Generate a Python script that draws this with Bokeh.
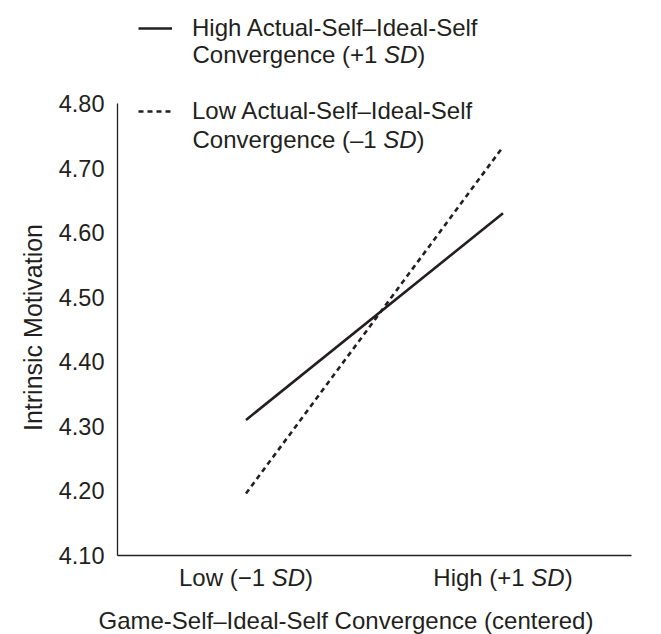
import math
from bokeh.plotting import figure
from bokeh.models import Range1d, FixedTicker, PrintfTickFormatter, Label, Legend, LegendItem
from bokeh.embed import file_html
from bokeh.resources import INLINE

# ---- data ----
x_categories = ["Low (\u22121 SD)", "High (+1 SD)"]
high_actual_ideal = [4.31, 4.63]   # High Actual-Self–Ideal-Self Convergence (+1 SD)
low_actual_ideal = [4.196, 4.733]  # Low Actual-Self–Ideal-Self Convergence (–1 SD)
y_ticks = [4.10, 4.20, 4.30, 4.40, 4.50, 4.60, 4.70, 4.80]
y_title = "Intrinsic Motivation"
x_title = "Game-Self\u2013Ideal-Self Convergence (centered)"
legend_high = ["High Actual-Self\u2013Ideal-Self", "Convergence (+1 ", "SD", ")"]
legend_low = ["Low Actual-Self\u2013Ideal-Self", "Convergence (\u20131 ", "SD", ")"]

# ---- layout / style ----
FONT = "Liberation Sans"
FS = 24
FSZ = f"{FS}px"
INK = "#231f20"
W, H = 661, 634
AX_LEFT, AX_RIGHT = 117, 631      # pixel columns of the x-axis ends
AX_BOTTOM, AX_TOP = 555, 103      # pixel rows of the first / last y tick
BASE_FIX = -8                     # alphabetic-baseline correction for labels
n = len(x_categories)
kx = (AX_RIGHT - AX_LEFT) / n                              # px per x unit
ky = (AX_BOTTOM - AX_TOP) / (y_ticks[-1] - y_ticks[0])     # px per y unit
x_start, x_end = -AX_LEFT / kx, n + (W - AX_RIGHT) / kx
y_start, y_end = y_ticks[0] - (H - AX_BOTTOM) / ky, y_ticks[0] + AX_BOTTOM / ky

AW = {' ': 278, '(': 333, ')': 333, '+': 584, '\u2212': 584, '\u2013': 556, '1': 556,
      'C': 722, 'o': 556, 'n': 556, 'v': 500, 'e': 556, 'r': 333, 'g': 556, 'c': 500,
      'L': 556, 'w': 722, 'H': 722, 'i': 222, 'h': 556, 'S': 667, 'D': 722}


def tw(s, fs=FS):
    return sum(AW.get(ch, 556) for ch in s) * fs / 1000.0


x_pos = [i + 0.5 for i in range(n)]

p = figure(width=W, height=H, output_backend="svg", toolbar_location=None,
           x_range=Range1d(x_start, x_end), y_range=Range1d(y_start, y_end),
           min_border_left=0, min_border_right=0, min_border_top=0, min_border_bottom=0)
p.outline_line_color = None
p.xgrid.visible = False
p.ygrid.visible = False
p.background_fill_color = "white"
p.border_fill_color = "white"

for ax in (p.xaxis[0], p.yaxis[0]):
    ax.axis_line_color = INK
    ax.axis_line_width = 1.3
    ax.major_tick_line_color = None
    ax.minor_tick_line_color = None
    ax.major_tick_out = 0
    ax.major_tick_in = 0
    ax.minor_tick_out = 0
    ax.major_label_text_font = FONT
    ax.major_label_text_font_size = "23.5px"
    ax.major_label_text_color = INK

p.xaxis.fixed_location = y_ticks[0]
p.xaxis.bounds = (0, n)
p.xaxis.ticker = FixedTicker(ticks=[])
p.yaxis.fixed_location = 0
p.yaxis.bounds = (y_ticks[0], y_ticks[-1])
p.yaxis.ticker = FixedTicker(ticks=y_ticks)
p.yaxis.formatter = PrintfTickFormatter(format="%.2f")
p.yaxis.major_label_standoff = 13

r_high = p.line(x_pos, high_actual_ideal, line_color=INK, line_width=2.6)
r_low = p.line(x_pos, low_actual_ideal, line_color=INK, line_width=2.6, line_dash="5 4")

legend = Legend(items=[LegendItem(label=legend_high[0], renderers=[r_high]),
                       LegendItem(label=legend_low[0], renderers=[r_low])],
                location=(138, H - 126), orientation="vertical",
                glyph_width=34, glyph_height=30, label_height=30, label_standoff=20,
                spacing=53, padding=0, margin=0,
                border_line_color=None, background_fill_alpha=0,
                label_text_font=FONT, label_text_font_size=FSZ, label_text_color=INK)
p.add_layout(legend, "center")


def add_label(text, px, py, style="normal", align="left", baseline="alphabetic",
              angle=0.0, size=FSZ):
    # px, py: pixel position from the top-left of the picture (frame covers the canvas)
    if baseline == "alphabetic":
        py = py + BASE_FIX
    p.add_layout(Label(x=px, y=H - py, x_units="screen", y_units="screen", text=text,
                       text_font=FONT, text_font_size=size, text_color=INK,
                       text_font_style=style, text_align=align, text_baseline=baseline,
                       angle=angle))


def add_pieces(pieces, px, py, center=False):
    total = sum(tw(t) for t, _ in pieces)
    x = px - total / 2 if center else px
    for t, st in pieces:
        add_label(t, x, py, style=st)
        x += tw(t)


# legend second lines (with italic SD)
add_pieces([(legend_high[1], "normal"), (legend_high[2], "italic"), (legend_high[3], "normal")], 192, 62)
add_pieces([(legend_low[1], "normal"), (legend_low[2], "italic"), (legend_low[3], "normal")], 192, 147)

# x tick labels with italic SD, centred on the category positions
for cat, xv in zip(x_categories, x_pos):
    head, tail = cat.split("SD")
    cx = AX_LEFT + xv * kx
    add_pieces([(head, "normal"), ("SD", "italic"), (tail, "normal")], cx, 585, center=True)

# axis titles
add_label(x_title, 98, 628)
add_label(y_title, 32, 327, align="center", baseline="middle", angle=math.pi / 2, size="25px")

open("out.html", "w").write(file_html(p, INLINE))
